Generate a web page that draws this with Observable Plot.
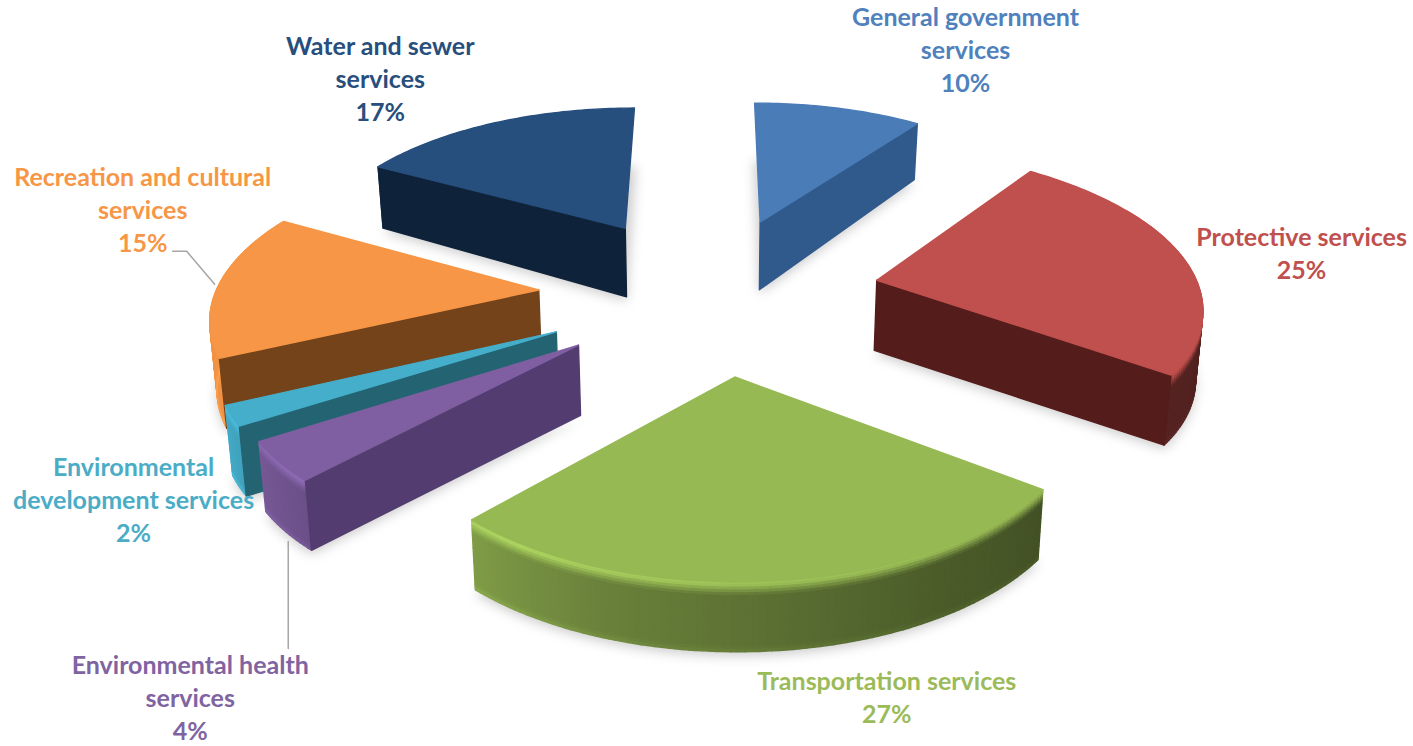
<!DOCTYPE html>
<html>
<head>
<meta charset="utf-8">
<style>
  html, body { margin: 0; padding: 0; background: #fff; }
  svg { display: block; }
</style>
<script src="https://cdn.jsdelivr.net/npm/d3@7"></script>
<script src="https://cdn.jsdelivr.net/npm/@observablehq/plot@0.6"></script>
</head>
<body>
<div id="chart"></div>
<script>
// Expense shares by service, clockwise from twelve o'clock.
const categories = [
  "General government\nservices",
  "Protective services",
  "Transportation services",
  "Environmental health\nservices",
  "Environmental\ndevelopment services",
  "Recreation and cultural\nservices",
  "Water and sewer\nservices"
];
const shares = [10, 25, 27, 4, 2, 15, 17];
const topColors = ["#4a7cb8", "#c0504d", "#97b954", "#7f5fa1", "#45aecb", "#f79646", "#264f7e"];
const wallColors = ["#30598c", "#541c1a", "#5a7530", "#533c70", "#246472", "#74431a", "#0e2239"];
const labelColors = ["#4f81bd", "#c0504d", "#9bbb59", "#8064a2", "#4bacc6", "#f79646", "#274e7d"];
// Label centres and leader bends, as offsets from the middle of each outer arc.
const labelOffsets = [[126, -60], [117, -6], [117, 115], [-84, 235], [-98, 83], [-78, -77], [-117, -46]];
const leaders = [
  {slice: 5, path: [[-48, -34], [-34, -34], [-6, -1]]},
  {slice: 3, path: [[14, 80], [14, 187]]}
];
// Extra sideways pull of individual slices, in pixels.
const sidePull = [-1, -2, 6, 5, 0, -2, -4];

// Camera for the tilted, exploded pie.
const width = 1413, height = 746;
const cx = 711, cy = 292, scaleX = 323, scaleY = 152, camera = 7.5;
const explodeU = 0.53, explodeV = 0.52, thickness = 68, taper = 0.985;
const rad = d => d * Math.PI / 180;

function project(u, v, drop = 0) {
  const s = camera / (camera + v);
  const x = cx + scaleX * u * s;
  const y = cy - scaleY * v * s;
  const depth = thickness * Math.min(1.03, 1 - (0.94 - s) * 2) * drop;
  return {x: cx + (x - cx) * (1 - (1 - taper) * drop), y: y + depth};
}

const total = d3.sum(shares);
let running = 0;
const slices = shares.map((share, i) => {
  const start = running / total * 360;
  running += share;
  const end = running / total * 360;
  const mid = (start + end) / 2;
  return {
    i, share, start, end, mid,
    u0: explodeU * Math.sin(rad(mid)),
    v0: explodeV * Math.cos(rad(mid)),
    top: topColors[i], wall: wallColors[i]
  };
});

const rimPoint = (sl, a, drop = 0) =>
  project(sl.u0 + Math.sin(rad(a)), sl.v0 + Math.cos(rad(a)), drop);

const tint = (c, k) => {
  const r = d3.rgb(c);
  return d3.rgb(Math.min(255, r.r * k), Math.min(255, r.g * k), Math.min(255, r.b * k)).formatHex();
};
const mix = (a, b, t) => d3.color(d3.interpolateRgb(a, b)(Math.max(0, Math.min(1, t)))).formatHex();

// Light falls from the left: the curved wall darkens as it turns to the right.
const wallShade = d3.scaleLinear()
  .domain([60, 126, 150, 180, 200, 223, 245, 300])
  .range([0.38, 0.44, 0.5, 0.62, 0.7, 0.84, 0.97, 1]).clamp(true);
const rimGlow = d3.scaleLinear()
  .domain([130, 180, 215, 245])
  .range([1, 1.08, 1.18, 1.08]).clamp(true);

function wallTint(sl, a, v) {
  const wall = tint(sl.top, wallShade(a));
  const glow = tint(sl.top, rimGlow(a));
  if (v < 0.04) return mix(sl.top, glow, v / 0.04);
  if (v < 0.2) return mix(glow, wall, (v - 0.04) / 0.16);
  if (v > 0.93) return mix(wall, tint(wall, 1.1), (v - 0.93) / 0.07);
  return wall;
}

// Painter's order: slices farthest from the viewer come first.
const polygons = [];
const shadows = [];
let nextId = 0;
const addPolygon = (list, pts, c, pull) => {
  const id = nextId++;
  for (const p of pts) list.push({x: p.x + pull, y: p.y, id, c});
};

const rows = [0, 0.02, 0.04, 0.08, 0.12, 0.16, 0.2, 0.4, 0.6, 0.8, 0.93, 0.97, 1];
for (const sl of [...slices].sort((a, b) => b.v0 - a.v0)) {
  const pull = sidePull[sl.i];
  const arc = [];
  for (let a = sl.start; a < sl.end; a += 1) arc.push(a);
  arc.push(sl.end);

  // soft contact shadow under the base
  const apexLow = project(sl.u0, sl.v0, 1);
  addPolygon(shadows, [apexLow, ...arc.map(a => rimPoint(sl, a, 1))], "#000000", pull);

  // curved outer wall
  for (let k = 0; k < arc.length - 1; k++) {
    const a0 = arc[k], a1 = arc[k + 1], am = (a0 + a1) / 2;
    if (Math.cos(rad(am)) > 0.5) continue;
    for (let r = 0; r < rows.length - 1; r++) {
      addPolygon(polygons, [
        rimPoint(sl, a0, rows[r]), rimPoint(sl, a1, rows[r]),
        rimPoint(sl, a1, rows[r + 1]), rimPoint(sl, a0, rows[r + 1])
      ], wallTint(sl, am, (rows[r] + rows[r + 1]) / 2), pull);
    }
  }

  // straight cut walls that face the viewer
  const cuts = [];
  if (sl.start > 180 && sl.start < 360) cuts.push(sl.start);
  if (sl.end > 0 && sl.end < 180) cuts.push(sl.end);
  for (const a of cuts) {
    addPolygon(polygons, [
      project(sl.u0, sl.v0, 0), rimPoint(sl, a, 0),
      rimPoint(sl, a, 1), project(sl.u0, sl.v0, 1)
    ], sl.wall, pull);
  }

  // top face
  addPolygon(polygons, [project(sl.u0, sl.v0, 0), ...arc.map(a => rimPoint(sl, a, 0))], sl.top, pull);
}

const labels = slices.map(sl => {
  const p = rimPoint(sl, sl.mid, 0);
  const [dx, dy] = labelOffsets[sl.i];
  return {x: p.x + dx, y: p.y + dy, text: `${categories[sl.i]}\n${sl.share}%`, c: labelColors[sl.i]};
});

const leaderPoints = leaders.flatMap(({slice, path}) => {
  const sl = slices[slice];
  const p = rimPoint(sl, sl.mid, 0);
  return path.map(([dx, dy]) => ({x: p.x + dx, y: p.y + dy, slice}));
});

const chart = Plot.plot({
  width, height,
  margin: 0,
  x: {domain: [0, width], range: [0, width], axis: null},
  y: {domain: [0, height], range: [0, height], axis: null},
  color: {type: "identity"},
  marks: [
    Plot.line(shadows, {
      x: "x", y: "y", z: "id", fill: "#000", fillOpacity: 0.2, stroke: "none",
      curve: "linear-closed", dy: 4, imageFilter: "blur(6px)"
    }),
    Plot.line(leaderPoints, {x: "x", y: "y", z: "slice", stroke: "#a6a6a6", strokeWidth: 1.5}),
    Plot.line(polygons, {
      x: "x", y: "y", z: "id", fill: "c", stroke: "c", strokeWidth: 1.4,
      curve: "linear-closed"
    }),
    Plot.text(labels, {
      x: "x", y: "y", text: "text", fill: "c",
      fontFamily: "Lato", fontWeight: 700, fontSize: 25, lineHeight: 1.32,
      textAnchor: "middle"
    })
  ]
});
document.getElementById("chart").appendChild(chart);
</script>
</body>
</html>
